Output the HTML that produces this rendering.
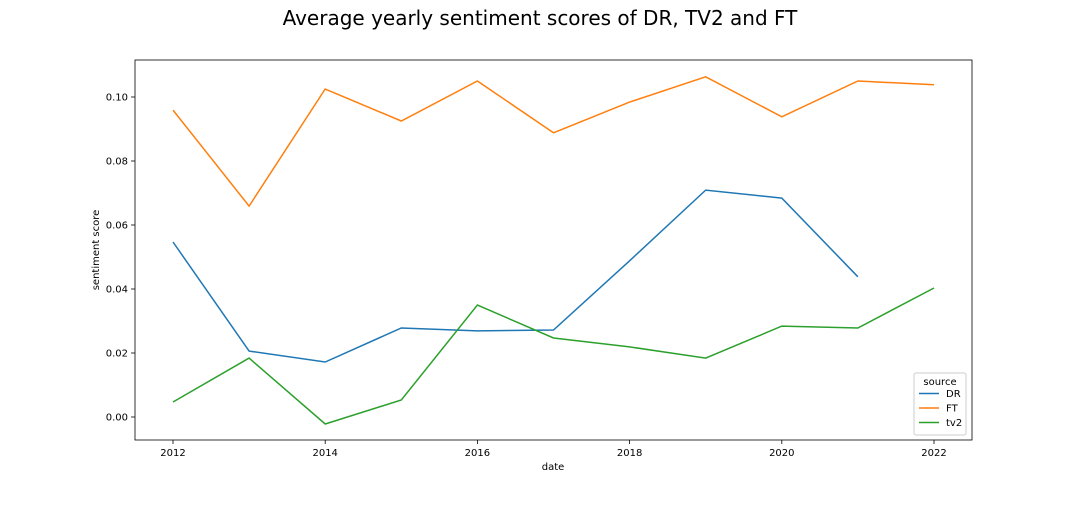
<!DOCTYPE html>
<html><head><meta charset="utf-8"><style>
body{margin:0;background:#fff;font-family:"Liberation Sans","DejaVu Sans",sans-serif;}
svg text{font-family:"DejaVu Sans","Liberation Sans",sans-serif;fill:#000;}
</style></head><body>
<svg id="chart" width="1080" height="504" viewBox="0 0 1080 504">
<rect width="1080" height="504" fill="#fff"/>
<text x="540" y="25" text-anchor="middle" font-size="20">Average yearly sentiment scores of DR, TV2 and FT</text>
<g id="axes"></g>
<g id="lines"></g>
<rect x="135" y="60" width="837" height="380" fill="none" stroke="#000" stroke-width="0.8"/>
<text x="553" y="470" text-anchor="middle" font-size="10">date</text>
<text transform="translate(99,250) rotate(-90)" text-anchor="middle" font-size="10">sentiment score</text>
<g id="legend">
<rect x="914" y="373" width="52" height="62" fill="#fff" stroke="#ccc" rx="2"/>
<text x="940" y="385" text-anchor="middle" font-size="10">source</text>
</g>
</svg>
<script>
const years=[2012,2013,2014,2015,2016,2017,2018,2019,2020,2021,2022];
const drValues=[0.0547,0.0206,0.0172,0.0278,0.0269,0.0272,0.0488,0.0709,0.0684,0.0438,null];
const ftValues=[0.0959,0.0659,0.1025,0.0925,0.105,0.0888,0.0984,0.1063,0.0938,0.105,0.1038];
const tv2Values=[0.0047,0.0184,-0.0022,0.0053,0.035,0.0247,0.0219,0.0184,0.0284,0.0278,0.0403];
const xTicks=[2012,2014,2016,2018,2020,2022];
const yTicks=[0,0.02,0.04,0.06,0.08,0.10];
const yTickLabels=["0.00","0.02","0.04","0.06","0.08","0.10"];
const seriesNames=["DR","FT","tv2"];
const NS="http://www.w3.org/2000/svg";
const xs=v=>173+(v-2012)*76.1;
const ys=v=>417-v*3200;
const axes=document.getElementById('axes'),lines=document.getElementById('lines'),legend=document.getElementById('legend');
function mk(t,a,p){const e=document.createElementNS(NS,t);for(const k in a)e.setAttribute(k,a[k]);p.appendChild(e);return e;}
xTicks.forEach(t=>{
 const g=mk('g',{},axes);
 
 
 mk('line',{x1:xs(t),x2:xs(t),y1:440,y2:444,stroke:'#000','stroke-width':0.8},g);
 const tx=mk('text',{x:xs(t),y:456,'text-anchor':'middle','font-size':10},g);tx.textContent=t;
});
yTicks.forEach((t,i)=>{
 const g=mk('g',{},axes);
 
 
 mk('line',{x1:131,x2:135,y1:ys(t),y2:ys(t),stroke:'#000','stroke-width':0.8},g);
 const tx=mk('text',{x:128,y:ys(t)+3.5,'text-anchor':'end','font-size':10},g);tx.textContent=yTickLabels[i];
});
const series=[drValues,ftValues,tv2Values],colors=['#1f77b4','#ff7f0e','#2ca02c'];
series.forEach((vals,s)=>{
 const pts=[];vals.forEach((v,i)=>{if(v!==null)pts.push(xs(years[i]).toFixed(1)+','+ys(v).toFixed(1));});
 const p=mk('polyline',{points:pts.join(' '),fill:'none',stroke:colors[s],'stroke-width':1.5},lines);
 
 
 const g=mk('g',{},legend);
 
 
 const y=397+s*14.5;
 mk('line',{x1:919,x2:939,y1:y-3.5,y2:y-3.5,stroke:colors[s],'stroke-width':1.5},g);
 const t=mk('text',{x:946,y:y,'font-size':10},g);t.textContent=seriesNames[s];
});
</script>
</body></html>
